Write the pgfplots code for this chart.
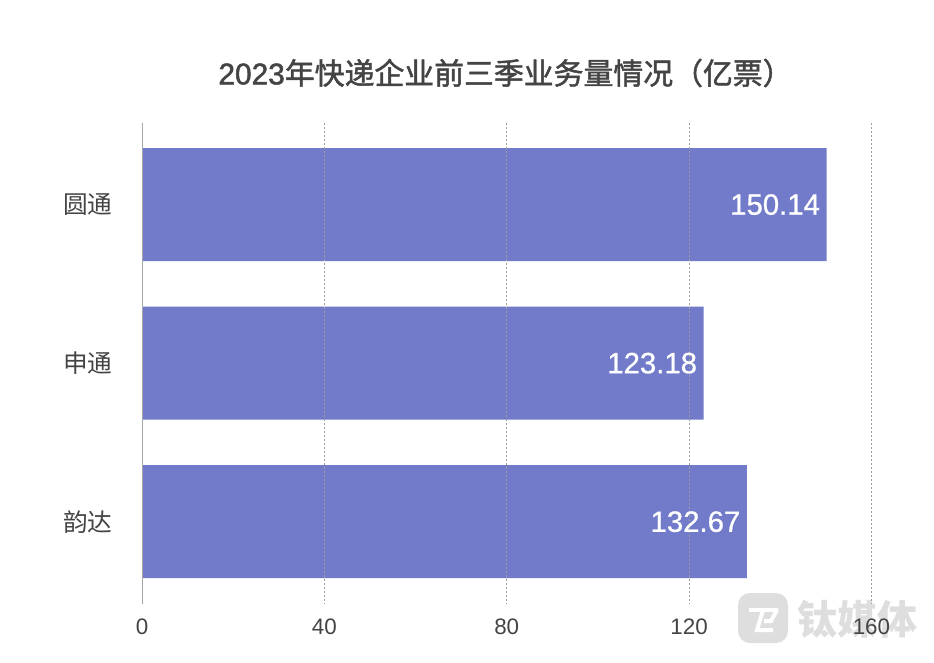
\documentclass[border=0pt]{standalone}
\usepackage{fontspec}
\usepackage{pgfplots}
\pgfplotsset{compat=1.18}
\setmainfont{Liberation Sans}
\newfontfamily\cjk{Noto Sans CJK SC}
\newfontfamily\cjkm[FakeBold=1.6]{Noto Sans CJK SC}
\newfontfamily\latm[FakeBold=1.6]{Liberation Sans}
\newfontfamily\latl[FakeBold=0.8]{Liberation Sans}
\definecolor{barc}{HTML}{727BC9}
\definecolor{txt}{HTML}{444444}
\definecolor{wm}{HTML}{DEDEDE}
\begin{document}
\begin{tikzpicture}[x=0.75pt,y=0.75pt]
\path[use as bounding box] (0,0) rectangle (934,662);
% watermark
\fill[wm,rounded corners=9pt] (738,19) rectangle (788,69);
\draw[white,line width=3pt] (749,52) -- (778,52);
\draw[white,line width=3pt] (763,52) -- (757,32) -- (773,32);
\draw[white,line width=3pt] (777,52) -- (771,41) -- (764,41);
\node[text=wm,anchor=center,inner sep=0pt,font=\fontsize{30}{30}\selectfont\cjk\bfseries] at (857,43) {钛媒体};
% title
\node[text=txt,inner sep=0pt,font=\fontsize{22.4}{22.4}\selectfont] at (505.5,589) {\latm 2023\cjkm 年快递企业前三季业务量情况（亿票）};
\begin{axis}[
  at={(106.5pt,43.75pt)}, anchor=south west,
  scale only axis, width=547.1pt, height=360.8pt,
  xbar, bar width=84.8pt, bar shift=0pt,
  xmin=0, xmax=160, ymin=-1.517, ymax=1.517,
  y dir=reverse,
  axis on top,
  xtick={0,40,80,120,160}, ytick={-1,0,1},
  yticklabels={\cjk 圆通,\cjk 申通,\cjk 韵达},
  major tick length=0pt,
  axis y line=left, axis x line=bottom,
  x axis line style={draw=none},
  y axis line style={-,draw=black!35,line width=0.75pt},
  xmajorgrids,
  grid style={dash pattern=on 1.5pt off 1.5pt,draw=black!38!white,line width=0.6pt},
  /pgf/number format/assume math mode=true,
  xticklabel style={font=\fontsize{16.8}{16.8}\selectfont,text=txt,yshift=-7.6pt},
  yticklabel style={font=\fontsize{18.5}{18.5}\selectfont,text=txt,xshift=-18.7pt},
  point meta=x,
  nodes near coords,
  every node near coord/.append style={anchor=east,text=white,font=\fontsize{22}{22}\selectfont\latl,
    /pgf/number format/fixed,/pgf/number format/fixed zerofill,/pgf/number format/precision=2,
    /pgf/number format/assume math mode=true,xshift=-1.4pt},
]
\addplot[fill=barc,draw=none] coordinates {(150.14,-1) (123.18,0) (132.67,1)};
\end{axis}
\end{tikzpicture}
\end{document}
